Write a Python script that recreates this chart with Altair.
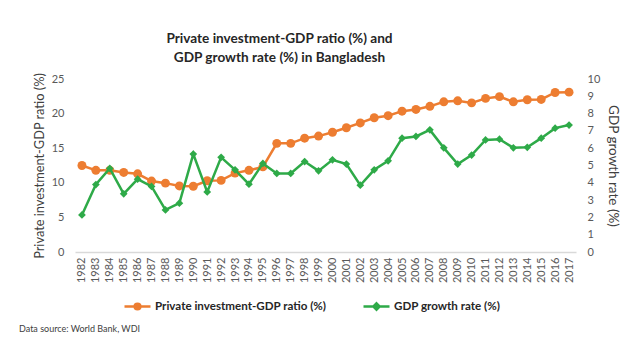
import altair as alt
import pandas as pd

years = [str(y) for y in range(1982, 2018)]
invest_ratio = [12.5, 11.8, 11.8, 11.5, 11.3, 10.25, 9.95, 9.55, 9.5, 10.3, 10.35, 11.4, 11.8, 12.3,
                15.7, 15.7, 16.45, 16.75, 17.3, 17.95, 18.65, 19.4, 19.7, 20.35, 20.6, 21.05,
                21.7, 21.85, 21.55, 22.2, 22.45, 21.7, 22.0, 22.05, 23.05, 23.1]
gdp_growth = [2.14, 3.9, 4.83, 3.36, 4.21, 3.79, 2.43, 2.82, 5.66, 3.47, 5.47, 4.75, 3.92, 5.12,
              4.54, 4.54, 5.23, 4.69, 5.33, 5.08, 3.86, 4.75, 5.27, 6.58, 6.68, 7.06,
              6.02, 5.08, 5.6, 6.48, 6.52, 6.02, 6.05, 6.58, 7.16, 7.34]
series_names = ["Private investment-GDP ratio (%)", "GDP growth rate (%)"]
title_lines = ["Private investment-GDP ratio (%) and", "GDP growth rate (%) in Bangladesh"]
source_note = "Data source: World Bank, WDI"

ORANGE = "#ED7D31"
GREEN = "#2EAA48"
FONT = "Lato"

df_inv = pd.DataFrame({"year": years, "value": invest_ratio, "series": series_names[0]})
df_gdp = pd.DataFrame({"year": years, "value": gdp_growth, "series": series_names[1]})

x_enc = alt.X("year:O", title=None,
              axis=alt.Axis(labelAngle=-90, ticks=False, domainColor="#D9D9D9", domainWidth=1.5,
                            labelPadding=5, labelFontSize=11, labelColor="#595959", labelFont=FONT))

y_left = alt.Y("value:Q", title="Private investment-GDP ratio (%)",
               scale=alt.Scale(domain=[0, 25], nice=False),
               axis=alt.Axis(orient="left", values=[0, 5, 10, 15, 20, 25], domain=False, ticks=False,
                             grid=False, labelPadding=11, labelFontSize=11, labelColor="#595959",
                             labelFont=FONT, titleFont=FONT, titleFontSize=12.8, titleFontWeight="normal",
                             titleColor="#404040", titlePadding=5))
y_right = alt.Y("value:Q", title="GDP growth rate (%)",
                scale=alt.Scale(domain=[0, 10], nice=False),
                axis=alt.Axis(orient="right", values=list(range(0, 11)), domain=False, ticks=False,
                              grid=False, labelPadding=11, labelFontSize=11, labelColor="#595959",
                              labelFont=FONT, titleFont=FONT, titleFontSize=13.5, titleFontWeight="normal",
                              titleColor="#404040", titlePadding=6))

circle_path = "M-1,0H1M0.22,0A0.22,0.22 0 1,1 -0.22,0A0.22,0.22 0 1,1 0.22,0Z"
diamond_path = "M-1,0H1M0,-0.24L0.24,0L0,0.24L-0.24,0Z"


def legend_for(color, path, lx):
    return alt.Legend(orient="none", legendX=lx, legendY=213, title=None, padding=0,
                      symbolType=path, symbolSize=676, symbolStrokeWidth=2.5,
                      symbolStrokeColor=color, symbolFillColor=color, labelOffset=3,
                      labelFont=FONT, labelFontSize=11.6, labelFontWeight="bold", labelColor="#262626",
                      labelLimit=400)


inv_line = alt.Chart(df_inv).mark_line(color=ORANGE, strokeWidth=2.5).encode(x=x_enc, y=y_left)
inv_pts = alt.Chart(df_inv).mark_point(filled=True, opacity=1, size=80, shape="circle").encode(
    x=x_enc, y=y_left,
    color=alt.Color("series:N", scale=alt.Scale(domain=[series_names[0]], range=[ORANGE]),
                    legend=legend_for(ORANGE, circle_path, 48)))
inv = alt.layer(inv_line, inv_pts)

gdp_line = alt.Chart(df_gdp).mark_line(color=GREEN, strokeWidth=2.5).encode(x=x_enc, y=y_right)
gdp_pts = alt.Chart(df_gdp).mark_point(filled=True, opacity=1, size=60, shape="diamond").encode(
    x=x_enc, y=y_right,
    color=alt.Color("series:N", scale=alt.Scale(domain=[series_names[1]], range=[GREEN]),
                    legend=legend_for(GREEN, diamond_path, 287)))
gdp = alt.layer(gdp_line, gdp_pts)

note = alt.Chart(pd.DataFrame({"t": [source_note]})).mark_text(
    align="left", baseline="middle", font=FONT, fontSize=9, color="#404040"
).encode(text="t:N", x=alt.value(-56), y=alt.value(250))

chart = alt.layer(inv, gdp, note).resolve_scale(y="independent", color="independent").properties(
    width=501, height=173,
    autosize=alt.AutoSizeParams(type="none"),
    padding={"left": 67, "top": 71, "right": 47, "bottom": 82},
    title=alt.Title(title_lines, anchor="middle", frame="group", dx=-46, offset=8, font=FONT, fontSize=13.6,
                    fontWeight="bold", color="#262626", lineHeight=19),
    background="white",
).configure_view(stroke=None)

chart.save("out.html", embed_options={"renderer": "svg", "actions": False})
